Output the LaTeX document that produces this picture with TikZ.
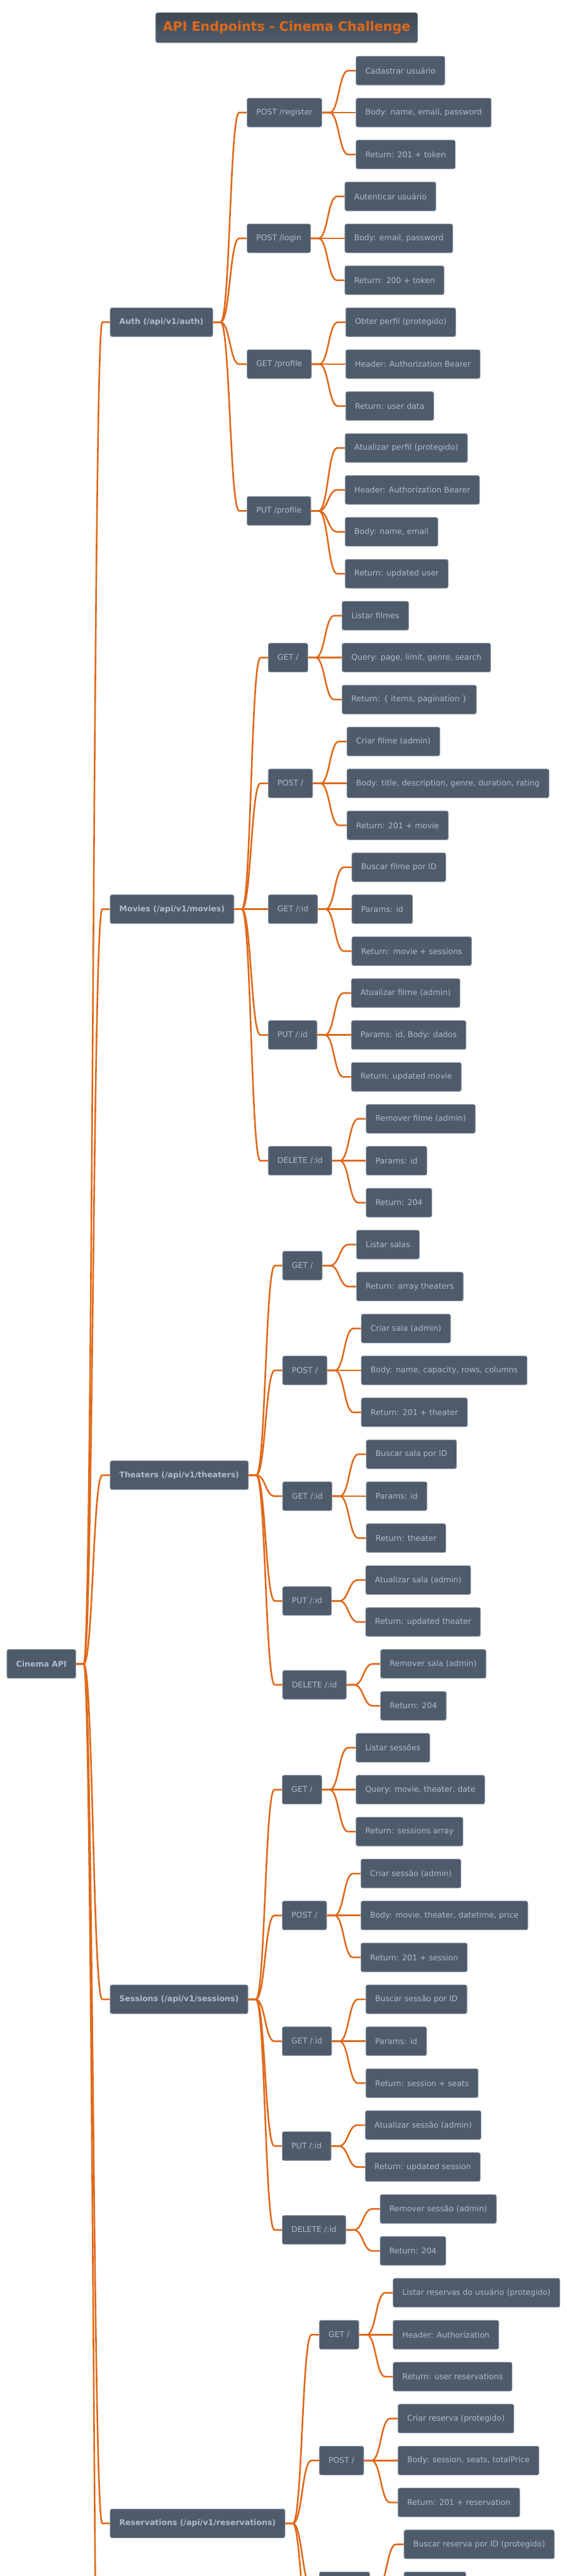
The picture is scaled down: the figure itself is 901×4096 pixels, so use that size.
\documentclass[tikz,border=0pt]{standalone}
\usepackage{fontspec}
\setmainfont{DejaVu Sans}
\usetikzlibrary{calc}
\definecolor{lineor}{HTML}{DF691A}
\definecolor{boxfill}{HTML}{4E5B6B}
\definecolor{boxtext}{HTML}{B3BCC6}
\definecolor{boxline}{HTML}{97A3B0}
\definecolor{titletop}{HTML}{3F4852}
\definecolor{titlebot}{HTML}{4F5C6B}
\tikzset{
  box/.style={draw=boxline, line width=0.8pt, fill=boxfill, rounded corners=3pt, text=boxtext,
    minimum height=46pt, inner xsep=14.8pt, inner ysep=0pt, font=\fontsize{12.5}{15}\selectfont},
  leaf/.style={box},
  lvtwo/.style={box},
  lvone/.style={box, font=\fontsize{12.5}{15}\selectfont\bfseries},
  ghosttwo/.style={box, minimum width=80.4pt},
  ghostleaf/.style={box, minimum width=98.4pt},
  titlebox/.style={draw=boxline, line width=0.8pt, top color=titletop, bottom color=titlebot,
    rounded corners=3.5pt, text=lineor, minimum height=48pt, inner xsep=11.5pt, inner ysep=0pt,
    font=\fontsize{20.6}{25}\selectfont\bfseries},
  conn/.style={draw=lineor, line width=2.6pt, line join=round}
}
\newcommand\linkit[2]{\draw[conn] let \p1=(#1), \p2=(#2) in (#1) -- (\x1+12pt,\y1) .. controls (\x1+26.75pt,\y1) and (\x2-26.75pt,\y2) .. (\x2-12pt,\y2) -- (#2);}
\newcommand\addkid[5]{\path let \p1=(#2.east) in node[#1,anchor=west] (#3) at (\x1+53.5pt,{-(112.33+66.667*(#4))*1pt}) {#5};\linkit{#2.east}{#3.west}}
\begin{document}
\begin{tikzpicture}[x=1pt,y=1pt]
\useasboundingbox (0,0) rectangle (901,-4096);
\fill[white] (0,0) rectangle (901,-4096);

\node[titlebox] (title) at (455.5pt,-44pt) {API Endpoints - Cinema Challenge};

\node[lvone,anchor=west] (root) at (10.5pt,{-(112.33+66.667*38)*1pt}) {Cinema API};

% ---------- Auth
\addkid{lvone}{root}{auth}{6}{Auth (/api/v1/auth)}
\addkid{lvtwo}{auth}{areg}{1}{POST /register}
\addkid{leaf}{areg}{areg1}{0}{Cadastrar usuário}
\addkid{leaf}{areg}{areg2}{1}{Body: name, email, password}
\addkid{leaf}{areg}{areg3}{2}{Return: 201 + token}
\addkid{lvtwo}{auth}{alog}{4}{POST /login}
\addkid{leaf}{alog}{alog1}{3}{Autenticar usuário}
\addkid{leaf}{alog}{alog2}{4}{Body: email, password}
\addkid{leaf}{alog}{alog3}{5}{Return: 200 + token}
\addkid{lvtwo}{auth}{agp}{7}{GET /profile}
\addkid{leaf}{agp}{agp1}{6}{Obter perfil (protegido)}
\addkid{leaf}{agp}{agp2}{7}{Header: Authorization Bearer}
\addkid{leaf}{agp}{agp3}{8}{Return: user data}
\addkid{lvtwo}{auth}{app}{10.5}{PUT /profile}
\addkid{leaf}{app}{app1}{9}{Atualizar perfil (protegido)}
\addkid{leaf}{app}{app2}{10}{Header: Authorization Bearer}
\addkid{leaf}{app}{app3}{11}{Body: name, email}
\addkid{leaf}{app}{app4}{12}{Return: updated user}

% ---------- Movies
\addkid{lvone}{root}{mov}{20}{Movies (/api/v1/movies)}
\addkid{lvtwo}{mov}{mga}{14}{GET /}
\addkid{leaf}{mga}{mga1}{13}{Listar filmes}
\addkid{leaf}{mga}{mga2}{14}{Query: page, limit, genre, search}
\addkid{leaf}{mga}{mga3}{15}{Return: \{ items, pagination \}}
\addkid{lvtwo}{mov}{mpo}{17}{POST /}
\addkid{leaf}{mpo}{mpo1}{16}{Criar filme (admin)}
\addkid{leaf}{mpo}{mpo2}{17}{Body: title, description, genre, duration, rating}
\addkid{leaf}{mpo}{mpo3}{18}{Return: 201 + movie}
\addkid{lvtwo}{mov}{mgi}{20}{GET /:id}
\addkid{leaf}{mgi}{mgi1}{19}{Buscar filme por ID}
\addkid{leaf}{mgi}{mgi2}{20}{Params: id}
\addkid{leaf}{mgi}{mgi3}{21}{Return: movie + sessions}
\addkid{lvtwo}{mov}{mpu}{23}{PUT /:id}
\addkid{leaf}{mpu}{mpu1}{22}{Atualizar filme (admin)}
\addkid{leaf}{mpu}{mpu2}{23}{Params: id, Body: dados}
\addkid{leaf}{mpu}{mpu3}{24}{Return: updated movie}
\addkid{lvtwo}{mov}{mde}{26}{DELETE /:id}
\addkid{leaf}{mde}{mde1}{25}{Remover filme (admin)}
\addkid{leaf}{mde}{mde2}{26}{Params: id}
\addkid{leaf}{mde}{mde3}{27}{Return: 204}

% ---------- Theaters
\addkid{lvone}{root}{the}{33.5}{Theaters (/api/v1/theaters)}
\addkid{lvtwo}{the}{tga}{28.5}{GET /}
\addkid{leaf}{tga}{tga1}{28}{Listar salas}
\addkid{leaf}{tga}{tga2}{29}{Return: array theaters}
\addkid{lvtwo}{the}{tpo}{31}{POST /}
\addkid{leaf}{tpo}{tpo1}{30}{Criar sala (admin)}
\addkid{leaf}{tpo}{tpo2}{31}{Body: name, capacity, rows, columns}
\addkid{leaf}{tpo}{tpo3}{32}{Return: 201 + theater}
\addkid{lvtwo}{the}{tgi}{34}{GET /:id}
\addkid{leaf}{tgi}{tgi1}{33}{Buscar sala por ID}
\addkid{leaf}{tgi}{tgi2}{34}{Params: id}
\addkid{leaf}{tgi}{tgi3}{35}{Return: theater}
\addkid{lvtwo}{the}{tpu}{36.5}{PUT /:id}
\addkid{leaf}{tpu}{tpu1}{36}{Atualizar sala (admin)}
\addkid{leaf}{tpu}{tpu2}{37}{Return: updated theater}
\addkid{lvtwo}{the}{tde}{38.5}{DELETE /:id}
\addkid{leaf}{tde}{tde1}{38}{Remover sala (admin)}
\addkid{leaf}{tde}{tde2}{39}{Return: 204}

% ---------- Sessions
\addkid{lvone}{root}{ses}{46}{Sessions (/api/v1/sessions)}
\addkid{lvtwo}{ses}{sga}{41}{GET /}
\addkid{leaf}{sga}{sga1}{40}{Listar sessões}
\addkid{leaf}{sga}{sga2}{41}{Query: movie, theater, date}
\addkid{leaf}{sga}{sga3}{42}{Return: sessions array}
\addkid{lvtwo}{ses}{spo}{44}{POST /}
\addkid{leaf}{spo}{spo1}{43}{Criar sessão (admin)}
\addkid{leaf}{spo}{spo2}{44}{Body: movie, theater, datetime, price}
\addkid{leaf}{spo}{spo3}{45}{Return: 201 + session}
\addkid{lvtwo}{ses}{sgi}{47}{GET /:id}
\addkid{leaf}{sgi}{sgi1}{46}{Buscar sessão por ID}
\addkid{leaf}{sgi}{sgi2}{47}{Params: id}
\addkid{leaf}{sgi}{sgi3}{48}{Return: session + seats}
\addkid{lvtwo}{ses}{spu}{49.5}{PUT /:id}
\addkid{leaf}{spu}{spu1}{49}{Atualizar sessão (admin)}
\addkid{leaf}{spu}{spu2}{50}{Return: updated session}
\addkid{lvtwo}{ses}{sde}{51.5}{DELETE /:id}
\addkid{leaf}{sde}{sde1}{51}{Remover sessão (admin)}
\addkid{leaf}{sde}{sde2}{52}{Return: 204}

% ---------- Reservations
\addkid{lvone}{root}{res}{58.5}{Reservations (/api/v1/reservations)}
\addkid{lvtwo}{res}{rga}{54}{GET /}
\addkid{leaf}{rga}{rga1}{53}{Listar reservas do usuário (protegido)}
\addkid{leaf}{rga}{rga2}{54}{Header: Authorization}
\addkid{leaf}{rga}{rga3}{55}{Return: user reservations}
\addkid{lvtwo}{res}{rpo}{57}{POST /}
\addkid{leaf}{rpo}{rpo1}{56}{Criar reserva (protegido)}
\addkid{leaf}{rpo}{rpo2}{57}{Body: session, seats, totalPrice}
\addkid{leaf}{rpo}{rpo3}{58}{Return: 201 + reservation}
\addkid{ghosttwo}{res}{rgi}{60}{}
\addkid{leaf}{rgi}{rgi1}{59}{Buscar reserva por ID (protegido)}
\addkid{ghostleaf}{rgi}{rgi2}{60}{}

% ---------- branches running off the bottom edge
\coordinate (resnext) at (512pt,{-(112.33+66.667*63)*1pt});
\linkit{res.east}{resnext}
\coordinate (rootnext) at (176pt,{-(112.33+66.667*70.5)*1pt});
\linkit{root.east}{rootnext}
\end{tikzpicture}
\end{document}
